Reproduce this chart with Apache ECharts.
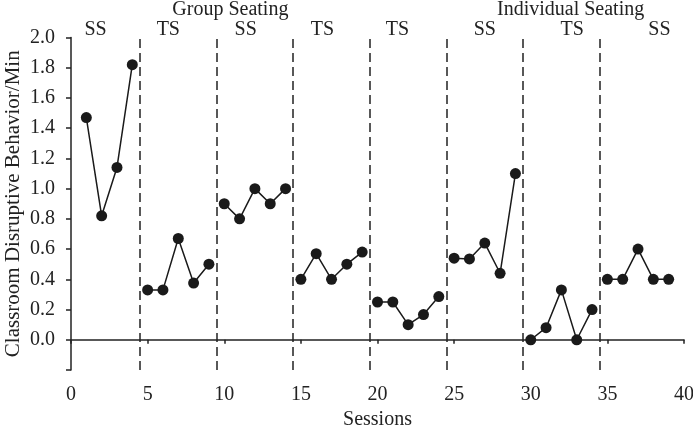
<!DOCTYPE html>
<html><head><meta charset="utf-8">
<script src="https://cdn.jsdelivr.net/npm/echarts@6/dist/echarts.min.js"></script>
<style>html,body{margin:0;padding:0;background:#fff}#c{width:693px;height:430px}</style>
</head><body><div id="c"></div>
<script>
const phaseSessions = [
  [1,2,3,4],[5,6,7,8,9],[10,11,12,13,14],[15,16,17,18,19],
  [20,21,22,23,24],[25,26,27,28,29],[30,31,32,33,34],[35,36,37,38,39]
];
const phaseValues = [
  [1.47,0.82,1.14,1.82],
  [0.33,0.33,0.67,0.375,0.5],
  [0.9,0.8,1.0,0.9,1.0],
  [0.40,0.57,0.40,0.50,0.58],
  [0.25,0.25,0.10,0.167,0.286],
  [0.54,0.535,0.64,0.44,1.10],
  [0.0,0.08,0.33,0.0,0.2],
  [0.40,0.40,0.60,0.40,0.40]
];
const phaseLines = [4.5,9.5,14.5,19.5,24.5,29.5,34.5];
const phaseNames = ['SS','TS','SS','TS','TS','SS','TS','SS'];
const phaseLabelX = [1.6,6.35,11.4,16.4,21.3,27.0,32.7,38.4];
const conditionNames = ['Group Seating','Individual Seating'];
const conditionLabelX = [10.4,32.6];
const yTitle = 'Classroom Disruptive Behavior/Min';

const FONT = '"Liberation Serif","DejaVu Serif",serif';
const chart = echarts.init(document.getElementById('c'));
const series = phaseSessions.map((s,i)=>({
  type:'line',
  data: s.map((x,j)=>[x, phaseValues[i][j]]),
  symbol:'circle', symbolSize:11,
  itemStyle:{color:'#1a1a1a'},
  lineStyle:{color:'#1a1a1a', width:1.5},
  animation:false,
  z:3
}));
series.push({
  type:'line', data:[], animation:false,
  markLine:{
    silent:true, symbol:['none','none'], label:{show:false},
    lineStyle:{color:'#222', width:1.5, type:[9,5]},
    data: phaseLines.map(v=>({xAxis:v}))
  }
});
chart.setOption({
  animation:false,
  grid:{left:71,right:9,top:37.5,bottom:60,outerBoundsMode:'none',containLabel:false},
  xAxis:{
    type:'value', min:0, max:40, interval:5,
    name:'Sessions', nameLocation:'middle', nameGap:38,
    nameTextStyle:{fontFamily:FONT,fontSize:20,color:'#222'},
    axisLine:{lineStyle:{color:'#222',width:1.5}},
    axisTick:{show:true,length:4,lineStyle:{color:'#222',width:1.5}},
    axisLabel:{fontFamily:FONT,fontSize:20,color:'#222',margin:15},
    splitLine:{show:false}
  },
  yAxis:{
    type:'value', min:-0.2, max:2.0, interval:0.2,
    axisLine:{show:true,lineStyle:{color:'#222',width:1.5}},
    axisTick:{show:true,length:5,lineStyle:{color:'#222',width:1.5}},
    axisLabel:{fontFamily:FONT,fontSize:20,color:'#222',margin:16,
      formatter:v=> v < -0.05 ? '' : (Math.abs(v)<1e-9?0:v).toFixed(1)},
    splitLine:{show:false}
  },
  series
});
const g = [];
phaseNames.forEach((n,i)=>{
  const p = chart.convertToPixel({gridIndex:0},[phaseLabelX[i],0]);
  g.push({type:'text',x:p[0],y:30,style:{text:n,font:'20px '+FONT,fill:'#222',align:'center',verticalAlign:'middle'}});
});
conditionNames.forEach((n,i)=>{
  const p = chart.convertToPixel({gridIndex:0},[conditionLabelX[i],0]);
  g.push({type:'text',x:p[0],y:10,style:{text:n,font:'20px '+FONT,fill:'#222',align:'center',verticalAlign:'middle'}});
});
const yTop = chart.convertToPixel({gridIndex:0},[0,2.0])[1];
const yBot = chart.convertToPixel({gridIndex:0},[0,-0.2])[1];
g.push({type:'text',x:13,y:(yTop+yBot)/2,rotation:Math.PI/2,
  style:{text:yTitle,font:'21px '+FONT,fill:'#222',align:'center',verticalAlign:'middle'}});
chart.setOption({graphic:g});
</script></body></html>
